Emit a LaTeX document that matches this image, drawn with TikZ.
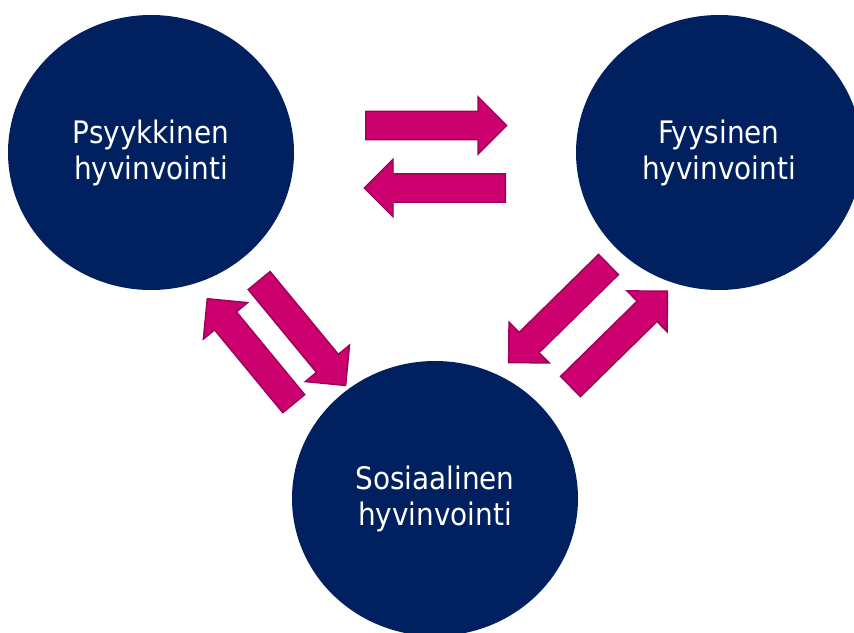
\documentclass[tikz,border=0pt]{standalone}
\usepackage{fontspec}
\IfFontExistsTF{DejaVu Sans Condensed}{\setmainfont{DejaVu Sans Condensed}}{\setmainfont{DejaVu Sans}}
\usepackage{xcolor}
\usepackage{tikz}
\usetikzlibrary{shapes.geometric, shapes.arrows}

\definecolor{navy}{HTML}{002060}
\definecolor{berry}{HTML}{CC006E}
\definecolor{berryline}{HTML}{9C0058}

\begin{document}
\begin{tikzpicture}[
    x=1pt, y=-1pt,
    wellbeing/.style={ellipse, fill=navy, text=white, minimum width=286pt, minimum height=275pt, inner sep=0pt, align=center, font=\fontsize{31}{36}\selectfont},
    fatarrow/.style={single arrow, single arrow tip angle=90, single arrow head extend=14.5pt, inner xsep=0pt, inner ysep=13.5pt, fill=berry, draw=berryline, line width=1.4pt, anchor=tail}
]
\useasboundingbox (0,0) rectangle (854,632);
\clip (0,0) rectangle (854,632);

% Circles
\node[wellbeing] (psyk) at (151,152.5) {Psyykkinen\\hyvinvointi};
\node[wellbeing] (fyys) at (719,152.5) {Fyysinen\\hyvinvointi};
\node[wellbeing] (sos) at (435,498.5) {Sosiaalinen\\hyvinvointi};

% Arrows top
\node[fatarrow, minimum height=141pt] (psyktofyys) at (365,125.5) {};
\node[fatarrow, minimum height=141pt, rotate=180] (fyystopsyk) at (506,188) {};

% Arrows left
\node[fatarrow, minimum height=136pt, rotate=-50.5] (psyktosos) at (258.7,280) {};
\node[fatarrow, minimum height=136pt, rotate=129.5] (sostopsyk) at (294.2,404.2) {};

% Arrows right
\node[fatarrow, minimum height=140pt, rotate=-135.5] (fyystosos) at (609,264) {};
\node[fatarrow, minimum height=136pt, rotate=44.5] (sostofyys) at (570,387) {};

\end{tikzpicture}
\end{document}
